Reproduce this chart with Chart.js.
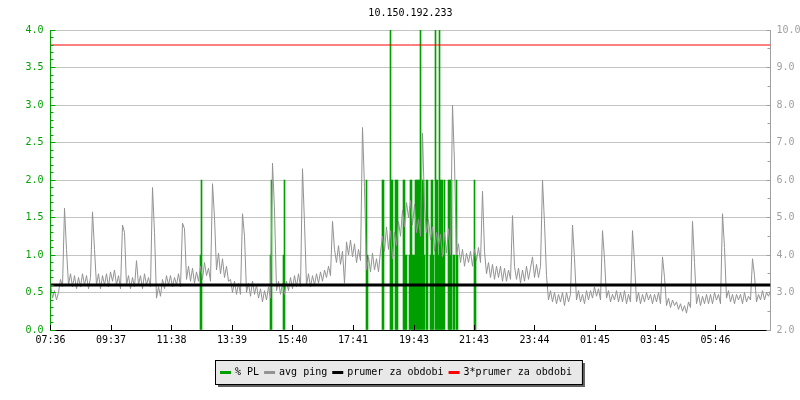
<!DOCTYPE html>
<html>
<head>
<meta charset="utf-8">
<title>10.150.192.233</title>
<script src="https://cdn.jsdelivr.net/npm/chart.js@4/dist/chart.umd.min.js"></script>
<style>
  html, body { margin: 0; padding: 0; background: #fff; }
  canvas { display: block; }
</style>
</head>
<body>
<canvas id="ping" width="800" height="400"></canvas>
<script>
// x axis: minutes since 07:36, one day
const tickMinutes = [0, 121, 242, 363, 484, 605, 727, 847, 968, 1089, 1209, 1330];
const tickLabels = ["07:36", "09:37", "11:38", "13:39", "15:40", "17:41", "19:43", "21:43", "23:44", "01:45", "03:45", "05:46"];

// avg ping in ms, one sample every 4 minutes (15 per row = 1 hour)
const pingStep = 4;
const pingValues = [
  3.25, 2.85, 3.05, 2.8, 3.0, 3.35, 3.15, 5.25, 4.15, 3.2, 3.5, 3.15, 3.45, 3.1, 3.4,
  3.15, 3.5, 3.2, 3.45, 3.1, 3.4, 5.15, 4.15, 3.2, 3.5, 3.1, 3.45, 3.2, 3.5, 3.15,
  3.55, 3.3, 3.6, 3.2, 3.45, 3.1, 4.8, 4.6, 3.2, 3.45, 3.1, 3.4, 3.15, 3.85, 3.2,
  3.45, 3.1, 3.5, 3.2, 3.4, 3.15, 5.8, 4.6, 2.85, 3.15, 2.9, 3.35, 3.1, 3.45, 3.2,
  3.45, 3.15, 3.4, 3.2, 3.5, 3.15, 4.85, 4.7, 3.35, 3.7, 3.3, 3.65, 3.25, 3.55, 3.3,
  3.7, 3.35, 3.8, 3.45, 3.65, 3.3, 5.9, 5.0, 3.6, 4.05, 3.5, 3.9, 3.4, 3.7, 3.3,
  3.35, 3.0, 3.3, 2.95, 3.25, 2.95, 5.1, 4.5, 3.0, 3.25, 2.9, 3.3, 2.95, 3.2, 2.85,
  3.1, 2.75, 3.05, 2.8, 3.15, 2.85, 6.45, 5.2, 3.05, 3.3, 2.95, 3.25, 2.95, 3.3, 3.05,
  3.4, 3.1, 3.45, 3.15, 3.5, 3.15, 6.3, 4.85, 3.2, 3.5, 3.15, 3.45, 3.2, 3.5, 3.25,
  3.55, 3.3, 3.6, 3.4, 3.7, 3.45, 4.9, 4.15, 3.8, 4.25, 3.75, 4.1, 3.25, 4.35, 4.0,
  4.4, 3.95, 4.3, 3.8, 4.15, 3.85, 7.4, 5.8, 3.6, 3.95, 3.55, 4.05, 3.6, 3.9, 3.55,
  4.1, 4.5, 4.1, 4.75, 4.15, 4.65, 3.9, 4.6, 4.25, 4.9, 4.5, 5.2, 4.75, 5.4, 5.0,
  5.45, 4.8, 5.35, 4.6, 4.95, 4.5, 7.25, 5.3, 4.6, 4.95, 4.4, 4.75, 4.1, 4.6, 4.25,
  4.55, 3.95, 4.6, 4.05, 4.7, 4.0, 8.0, 6.45, 4.0, 4.3, 3.8, 4.15, 3.7, 4.05, 3.8,
  4.1, 3.7, 4.15, 3.85, 4.2, 3.8, 5.7, 4.1, 3.5, 3.8, 3.4, 3.75, 3.35, 3.7, 3.4,
  3.7, 3.3, 3.65, 3.3, 3.6, 3.35, 5.05, 3.7, 3.35, 3.65, 3.25, 3.6, 3.3, 3.7, 3.35,
  3.65, 3.95, 3.4, 3.75, 3.4, 3.7, 6.0, 4.85, 3.45, 2.8, 3.05, 2.75, 3.0, 2.7, 2.95,
  2.75, 3.0, 2.65, 3.0, 2.75, 2.95, 4.8, 3.9, 2.8, 3.05, 2.75, 2.95, 2.7, 3.05, 2.8,
  3.05, 2.85, 3.15, 2.9, 3.1, 2.8, 4.65, 3.9, 2.85, 3.05, 2.75, 2.95, 2.8, 3.05, 2.75,
  3.0, 2.75, 3.05, 2.7, 2.95, 2.75, 4.65, 3.8, 2.75, 3.0, 2.7, 2.95, 2.75, 3.0, 2.8,
  2.95, 2.7, 2.95, 2.75, 3.0, 2.7, 3.95, 3.4, 2.65, 2.85, 2.6, 2.8, 2.65, 2.75, 2.55,
  2.7, 2.5, 2.65, 2.45, 2.75, 2.6, 4.9, 3.8, 2.7, 2.95, 2.65, 2.9, 2.7, 2.95, 2.7,
  2.95, 2.7, 3.0, 2.8, 2.95, 2.7, 5.1, 4.2, 2.85, 3.05, 2.75, 2.95, 2.7, 2.95, 2.8,
  2.95, 2.7, 3.0, 2.75, 2.9, 2.8, 3.9, 3.45, 2.75, 2.95, 2.8, 3.05, 2.8, 3.0, 2.9,
  3.05
];

// packet loss (%), minute of each loss sample
const lossMinutes = [
  300, 302, 440, 442, 466, 468, 632, 634, 664, 666,
  680, 682, 684, 690, 692, 694, 706, 708, 710, 712,
  718, 720, 722, 724, 726, 728, 730, 732, 734, 736,
  738, 740, 742, 744, 746, 748, 752, 754, 760, 762,
  764, 766, 770, 772, 774, 776, 778, 780, 782, 784,
  786, 788, 796, 798, 800, 802, 806, 808, 812, 814,
  848, 850
];
const lossValues = [
  1.0, 2.0, 1.0, 2.0, 1.0, 2.0, 2.0, 1.0, 2.0, 2.0,
  4.0, 2.0, 2.0, 2.0, 2.0, 2.0, 2.0, 2.0, 1.0, 1.0,
  1.0, 2.0, 2.0, 1.0, 1.0, 1.0, 2.0, 2.0, 2.0, 2.0,
  2.0, 4.0, 2.0, 2.0, 2.0, 1.0, 2.0, 2.0, 1.0, 2.0,
  2.0, 1.0, 4.0, 2.0, 2.0, 1.0, 4.0, 2.0, 2.0, 2.0,
  1.0, 2.0, 2.0, 2.0, 2.0, 2.0, 1.0, 1.0, 2.0, 1.0,
  2.0, 1.0
];

const avgPing = 3.2; // prumer za obdobi (ms)
const dayMinutes = 1440;

const GREEN = "#00a000";
const GRAY = "#939393";
const AXIS_GRAY = "#a0a0a0";
const GRID = "#c4c4c4";
const FONT = '"DejaVu Sans Mono", monospace';

Chart.defaults.font.family = FONT;
Chart.defaults.font.size = 10;

function hline(ctx, x1, y1, x2, y2) {
  ctx.beginPath();
  ctx.moveTo(x1, y1);
  ctx.lineTo(x2, y2);
  ctx.stroke();
}

// inward tick marks and the boxed legend
const decor = {
  id: "decor",
  afterDraw(chart) {
    const ctx = chart.ctx;
    const area = chart.chartArea;
    const yL = chart.scales.y, yR = chart.scales.y2, xs = chart.scales.x;
    const lx = Math.round(area.left - 0.5) + 0.5;
    const rx = Math.round(area.right - 0.5) + 0.5;
    ctx.save();
    ctx.lineWidth = 1;

    ctx.strokeStyle = GREEN;
    for (let k = 0; k <= 40; k++) {
      const py = Math.round(yL.getPixelForValue(k / 10) - 0.5) + 0.5;
      hline(ctx, lx, py, lx + (k % 5 === 0 ? 5 : 3), py);
    }
    ctx.strokeStyle = AXIS_GRAY;
    for (let k = 4; k <= 20; k++) {
      const py = Math.round(yR.getPixelForValue(k / 2) - 0.5) + 0.5;
      hline(ctx, rx, py, rx - (k % 2 === 0 ? 4 : 3), py);
    }
    ctx.strokeStyle = "#000";
    tickMinutes.forEach(m => {
      const px = Math.round(xs.getPixelForValue(m) - 0.5) + 0.5;
      hline(ctx, px, area.bottom, px, area.bottom - 5);
    });

    // legend
    ctx.font = "10px " + FONT;
    const items = chart.data.datasets.map(d => ({
      label: d.label,
      color: d.type === "bar" ? d.backgroundColor : d.borderColor,
      width: ctx.measureText(d.label).width
    }));
    const mark = 11, gapIn = 4, gapOut = 5;
    let total = 0;
    items.forEach((it, i) => { total += mark + gapIn + it.width + (i ? gapOut : 0); });
    const startX = Math.round(396 - total / 2);
    const bx = startX - 5, bw = total + 15, by = 360, bh = 24;
    ctx.fillStyle = "#606060";
    ctx.fillRect(bx + 3, by + 3, bw, bh);
    ctx.fillStyle = "#e8e8e8";
    ctx.fillRect(bx, by, bw, bh);
    ctx.strokeStyle = "#000";
    ctx.strokeRect(bx + 0.5, by + 0.5, bw, bh);
    let cx = startX;
    ctx.textBaseline = "alphabetic";
    ctx.textAlign = "left";
    items.forEach(it => {
      ctx.fillStyle = it.color;
      ctx.fillRect(cx, 371, mark, 3);
      cx += mark + gapIn;
      ctx.fillStyle = "#000";
      ctx.fillText(it.label, cx, 375);
      cx += it.width + gapOut;
    });
    ctx.restore();
  }
};

new Chart(document.getElementById("ping"), {
  type: "line",
  data: {
    datasets: [
      {
        type: "bar",
        label: "% PL",
        data: lossMinutes.map((m, i) => ({ x: m, y: lossValues[i] })),
        backgroundColor: GREEN,
        barThickness: 1,
        yAxisID: "y",
        order: 4
      },
      {
        label: "avg ping",
        data: pingValues.map((v, i) => ({ x: i * pingStep, y: v })),
        borderColor: GRAY,
        borderWidth: 1,
        pointRadius: 0,
        tension: 0,
        yAxisID: "y2",
        order: 3
      },
      {
        label: "prumer za obdobi",
        data: [{ x: 0, y: avgPing }, { x: dayMinutes, y: avgPing }],
        borderColor: "#000",
        borderWidth: 3,
        pointRadius: 0,
        yAxisID: "y2",
        order: 2
      },
      {
        label: "3*prumer za obdobi",
        data: [{ x: 0, y: 3 * avgPing }, { x: dayMinutes, y: 3 * avgPing }],
        borderColor: "#ff0000",
        borderWidth: 1,
        pointRadius: 0,
        yAxisID: "y2",
        order: 1
      }
    ]
  },
  options: {
    responsive: false,
    animation: false,
    devicePixelRatio: 1,
    events: [],
    layout: { padding: 0 },
    scales: {
      x: {
        type: "linear",
        min: 0,
        max: dayMinutes,
        offset: false,
        grid: { display: false, drawTicks: false },
        border: { color: "#000", width: 1 },
        ticks: {
          color: "#000",
          padding: 4,
          autoSkip: false,
          maxRotation: 0,
          callback: v => tickLabels[tickMinutes.indexOf(v)]
        },
        afterBuildTicks: s => { s.ticks = tickMinutes.map(v => ({ value: v })); },
        afterFit: s => { s.height = 70; }
      },
      y: {
        position: "left",
        min: 0,
        max: 4,
        grid: { color: GRID, drawTicks: false },
        border: { color: GREEN, width: 1 },
        ticks: { stepSize: 0.5, color: GREEN, padding: 7, callback: v => v.toFixed(1) },
        afterFit: s => { s.width = 50.5; }
      },
      y2: {
        position: "right",
        min: 2,
        max: 10,
        grid: { display: false, drawTicks: false },
        border: { color: AXIS_GRAY, width: 1 },
        ticks: { stepSize: 1, color: AXIS_GRAY, padding: 6, callback: v => v.toFixed(1) },
        afterFit: s => { s.width = 29.5; }
      }
    },
    plugins: {
      legend: { display: false },
      tooltip: { enabled: false },
      title: {
        display: true,
        text: "10.150.192.233",
        color: "#000",
        fullSize: false,
        font: { size: 10, weight: "normal" },
        padding: { top: 7, bottom: 11 }
      }
    }
  },
  plugins: [decor]
});
</script>
</body>
</html>
